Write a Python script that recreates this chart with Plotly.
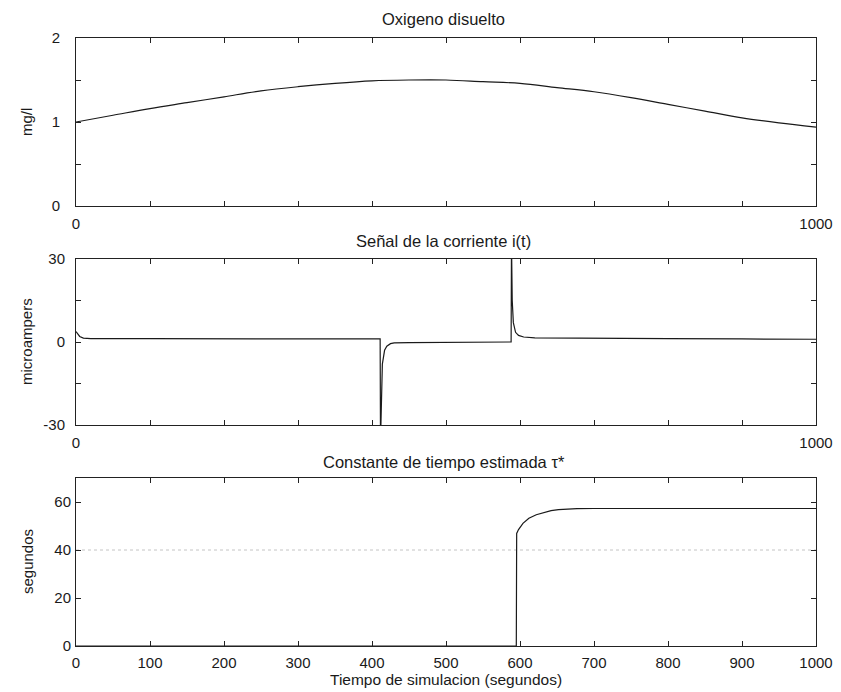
import plotly.graph_objects as go

# ---------------- data ----------------
# Panel 1: dissolved oxygen (mg/l)
t_ox = [0, 50, 100, 150, 200, 250, 300, 350, 400, 450, 500,
        550, 600, 650, 700, 750, 800, 850, 900, 950, 1000]
oxygen = [1.00, 1.08, 1.16, 1.23, 1.30, 1.37, 1.42, 1.46, 1.49, 1.50, 1.50,
          1.48, 1.46, 1.41, 1.36, 1.29, 1.21, 1.13, 1.05, 0.99, 0.94]

# Panel 2: current signal i(t) (microampers)
t_cur = [0, 2, 5, 10, 20, 100, 200, 300, 400, 411, 411.5, 412.5, 414, 417, 420,
         425, 430, 450, 500, 588, 588.5, 589.5, 591, 594, 598, 605, 620,
         700, 800, 900, 1000]
current = [3.8, 3.0, 2.0, 1.4, 1.2, 1.2, 1.2, 1.2, 1.1, 1.1, -36, -20, -8, -3, -1.5,
           -0.6, -0.3, -0.2, -0.1, 0.0, 36, 15, 7, 3.5, 2.4, 1.8, 1.5,
           1.3, 1.2, 1.1, 1.0]

# Panel 3: estimated time constant tau* (segundos)
t_tau = [0, 595, 595.5, 598, 604, 612, 622, 632, 642, 652, 663, 677,
         700, 800, 900, 1000]
tau_est = [0, 0, 46.9, 48.5, 51.1, 53.2, 54.7, 55.7, 56.4, 56.8, 57.1, 57.2,
           57.3, 57.3, 57.3, 57.3]

# reference (true) time constant, faint dotted line
t_ref = [0, 1000]
tau_ref = [40, 40]

# axis ticks / labels
x_ticks = [0, 100, 200, 300, 400, 500, 600, 700, 800, 900, 1000]
x_text_short = ["0", "", "", "", "", "", "", "", "", "", "1000"]
x_text_full = ["0", "100", "200", "300", "400", "500", "600", "700", "800", "900", "1000"]
y1_ticks = [0, 0.5, 1, 1.5, 2]
y1_text = ["0", "", "1", "", "2"]
y2_ticks = [-30, -15, 0, 15, 30]
y2_text = ["-30", "", "0", "", "30"]
y3_ticks = [0, 20, 40, 60]
y3_text = ["0", "20", "40", "60"]

titles = ["Oxigeno disuelto", "Señal de la corriente i(t)", "Constante de tiempo estimada τ*"]
ytitles = ["mg/l", "microampers", "segundos"]
xtitle = "Tiempo de simulacion (segundos)"

# ---------------- figure ----------------
W, H = 841, 692
FONT = "Liberation Sans, Arial, Helvetica, sans-serif"
LINE = "#1a1a1a"


def px(xw):
    return xw / W


def py(yw):
    return 1 - yw / H


fig = go.Figure()
fig.add_trace(go.Scatter(x=t_ox, y=oxygen, mode="lines", line=dict(color=LINE, width=1.2, shape="spline"),
                         xaxis="x", yaxis="y", showlegend=False))
fig.add_trace(go.Scatter(x=t_cur, y=current, mode="lines", line=dict(color=LINE, width=1.2),
                         xaxis="x2", yaxis="y2", showlegend=False))
fig.add_trace(go.Scatter(x=t_ref, y=tau_ref, mode="lines", line=dict(color="#c4c4c4", width=1, dash="dot"),
                         xaxis="x3", yaxis="y3", showlegend=False))
fig.add_trace(go.Scatter(x=t_tau, y=tau_est, mode="lines", line=dict(color=LINE, width=1.2),
                         xaxis="x3", yaxis="y3", showlegend=False))

# panel pixel boxes (top, bottom)
xl, xr = 76, 816
boxes = [(38, 206), (259, 425), (478, 646)]


def ydom(top, bot):
    return [py(bot), py(top)]


axis_common = dict(showline=True, linecolor="#222222", linewidth=1, mirror="ticks",
                   ticks="inside", ticklen=5, tickcolor="#222222", showgrid=False,
                   zeroline=False, automargin=False,
                   tickfont=dict(family=FONT, size=15, color="#1a1a1a"))

xdom = [px(xl), px(xr)]
layout = dict(
    template="none",
    width=W, height=H, autosize=False, margin=dict(l=0, r=0, t=0, b=0, pad=0),
    paper_bgcolor="white", plot_bgcolor="white", showlegend=False,
    xaxis=dict(domain=xdom, range=[0, 1000], tickvals=x_ticks, ticktext=x_text_short,
               anchor="y", ticklabelstandoff=4, **axis_common),
    xaxis2=dict(domain=xdom, range=[0, 1000], tickvals=x_ticks, ticktext=x_text_short,
                anchor="y2", ticklabelstandoff=4, **axis_common),
    xaxis3=dict(domain=xdom, range=[0, 1000], tickvals=x_ticks, ticktext=x_text_full,
                anchor="y3", ticklabelstandoff=3, **axis_common),
    yaxis=dict(domain=ydom(*boxes[0]), range=[0, 2], tickvals=y1_ticks, ticktext=y1_text,
               anchor="x", ticklabelstandoff=12, **axis_common),
    yaxis2=dict(domain=ydom(*boxes[1]), range=[-30, 30], tickvals=y2_ticks, ticktext=y2_text,
                anchor="x2", ticklabelstandoff=7, **axis_common),
    yaxis3=dict(domain=ydom(*boxes[2]), range=[0, 70], tickvals=y3_ticks, ticktext=y3_text,
                anchor="x3", ticklabelstandoff=1, **axis_common),
)
fig.update_layout(**layout)

ann = []
title_y = [19, 241, 462]
for txt, yy in zip(titles, title_y):
    ann.append(dict(text=txt, x=px(444), y=py(yy), xref="paper", yref="paper",
                    xanchor="center", yanchor="middle", showarrow=False,
                    font=dict(family=FONT, size=16.5, color="#1a1a1a")))
for txt, (top, bot) in zip(ytitles, boxes):
    ann.append(dict(text=txt, x=px(27), y=py((top + bot) / 2), xref="paper", yref="paper",
                    xanchor="center", yanchor="middle", textangle=-90, showarrow=False,
                    font=dict(family=FONT, size=15, color="#1a1a1a")))
ann.append(dict(text=xtitle, x=px(446), y=py(679), xref="paper", yref="paper",
                xanchor="center", yanchor="middle", showarrow=False,
                font=dict(family=FONT, size=15.5, color="#1a1a1a")))
fig.update_layout(annotations=ann)

fig.write_html("out.html")
